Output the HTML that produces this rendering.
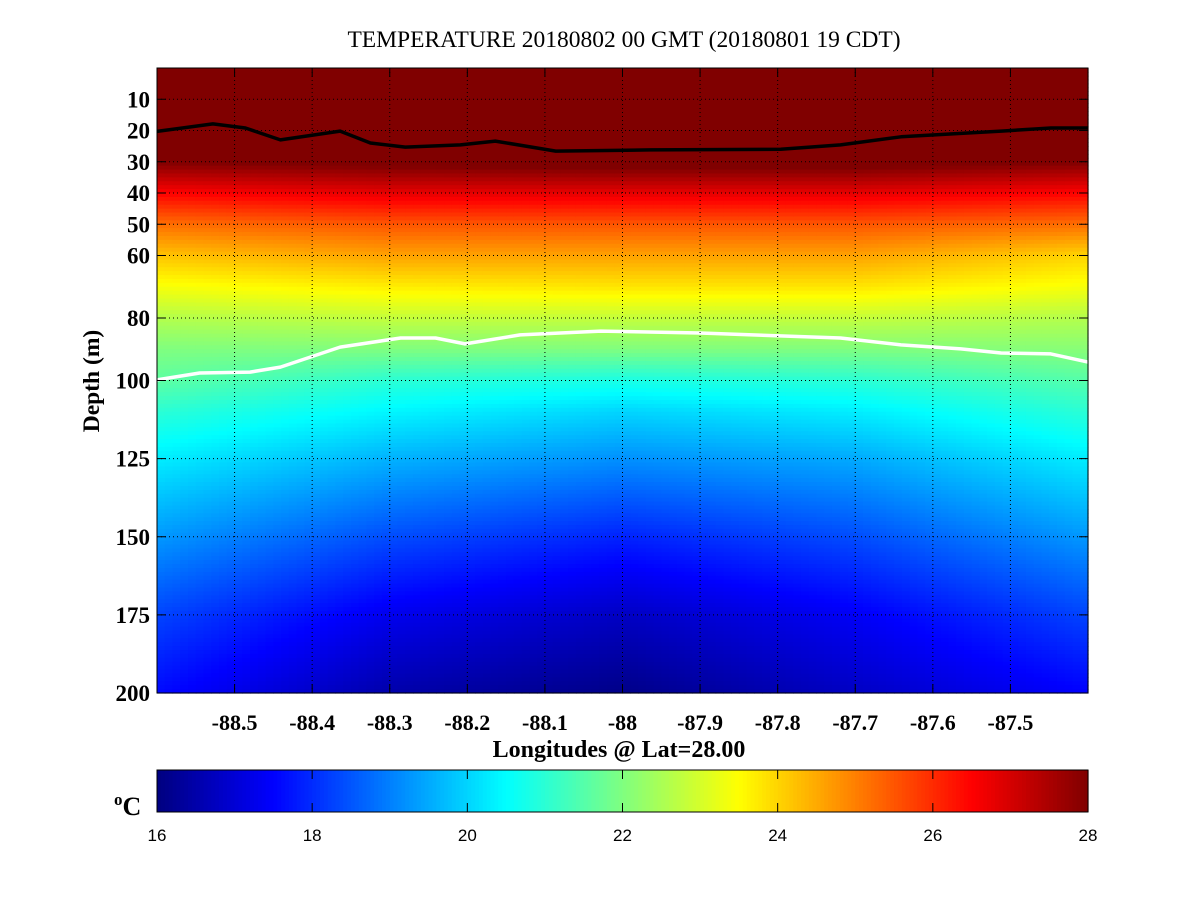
<!DOCTYPE html>
<html><head><meta charset="utf-8"><style>
body{margin:0;background:#fff}
svg text{font-family:"Liberation Serif",serif}
svg text.sans{font-family:"Liberation Sans",sans-serif}
</style></head><body>
<svg id="svg" width="1201" height="901" xmlns="http://www.w3.org/2000/svg">
<rect width="1201" height="901" fill="#fff"/>
<text x="624" y="47" font-size="23.5" text-anchor="middle">TEMPERATURE 20180802 00 GMT (20180801 19 CDT)</text>
<g id="heat"></g>
<g id="contours"></g>
<g id="grid"></g>
<rect x="157" y="68" width="931" height="625" fill="none" stroke="#000" stroke-width="1"/>
<g id="axes"></g>
<text transform="translate(99,381) rotate(-90)" font-size="23.5" font-weight="bold" text-anchor="middle">Depth (m)</text>
<text x="619" y="757" font-size="24" font-weight="bold" text-anchor="middle">Longitudes @ Lat=28.00</text>
<g id="cbar"></g>
<rect x="157" y="770" width="931" height="42" fill="none" stroke="#000"/>
<text x="114" y="815" font-size="26" font-weight="bold"><tspan font-size="17" dy="-10">o</tspan><tspan dy="10">C</tspan></text>
</svg>
<script>
const lonNodes=[-88.6,-88.3,-88.0,-87.7,-87.4];
const depthNodes=[0,20,30,40,50,60,70,80,90,100,110,125,150,175,200];
const profileW=[29,29,28,26.5,25.2,24.2,23.4,22.6,22.0,21.6,21.0,20.3,19.3,18.3,17.6];
const profileWC=[29,29,28.2,26.8,25.5,24.6,23.7,22.8,22.0,21.0,20.4,19.6,18.4,17.3,16.5];
const profileC=[29,29,28.3,26.8,25.5,24.6,23.8,22.8,22.0,20.8,20.0,19.2,17.9,16.8,16.1];
const profileEC=[29,29,28.3,26.8,25.5,24.6,23.8,22.8,22.0,21.0,20.3,19.5,18.4,17.4,16.8];
const profileE=[29,29,28,26.5,25.2,24.0,23.4,22.6,22.1,21.5,21.0,20.3,19.3,18.3,17.5];
const blackLon=[-88.6,-88.528,-88.486,-88.441,-88.364,-88.325,-88.28,-88.209,-88.164,-88.086,-87.964,-87.796,-87.719,-87.641,-87.512,-87.448,-87.4];
const blackDepth=[20.3,17.9,19.2,23,20.2,24,25.3,24.6,23.4,26.6,26.2,26,24.6,22,20.2,19.2,19.2];
const whiteLon=[-88.6,-88.545,-88.48,-88.441,-88.364,-88.286,-88.241,-88.203,-88.132,-88.028,-87.9,-87.719,-87.641,-87.564,-87.512,-87.448,-87.4];
const whiteDepth=[99.8,97.6,97.3,95.7,89.3,86.4,86.4,88.3,85.4,84.2,84.8,86.4,88.6,89.9,91.2,91.5,94.1];
const xTicks=[-88.5,-88.4,-88.3,-88.2,-88.1,-88,-87.9,-87.8,-87.7,-87.6,-87.5];
const yTicks=[10,20,30,40,50,60,80,100,125,150,175,200];
const cTicks=[16,18,20,22,24,26,28];
const profiles=[profileW,profileWC,profileC,profileEC,profileE];
const NS='http://www.w3.org/2000/svg';
const X0=157,X1=1088,Y0=68,Y1=693,LON0=-88.6,LON1=-87.4,D0=0,D1=200,T0=16,T1=28;
const xs=l=>X0+(l-LON0)/(LON1-LON0)*(X1-X0);
const ys=d=>Y0+(d-D0)/(D1-D0)*(Y1-Y0);
const cs=t=>X0+(t-T0)/(T1-T0)*(X1-X0);
function mk(tag,at,p){const e=document.createElementNS(NS,tag);for(const k in at)e.setAttribute(k,at[k]);p.appendChild(e);return e;}
function interp(xa,ya,x){if(x<=xa[0])return ya[0];for(let i=1;i<xa.length;i++){if(x<=xa[i]){const f=(x-xa[i-1])/(xa[i]-xa[i-1]);return ya[i-1]+f*(ya[i]-ya[i-1]);}}return ya[ya.length-1];}
function temp(l,d){const col=profiles.map(p=>interp(depthNodes,p,d));return interp(lonNodes,col,l);}
function jet(t){let v=(t-T0)/(T1-T0);v=Math.max(0,Math.min(1,v));
 const r=Math.max(0,Math.min(1,Math.min(4*v-1.5,-4*v+4.5)));
 const g=Math.max(0,Math.min(1,Math.min(4*v-0.5,-4*v+3.5)));
 const b=Math.max(0,Math.min(1,Math.min(4*v+0.5,-4*v+2.5)));
 return `rgb(${Math.round(r*255)},${Math.round(g*255)},${Math.round(b*255)})`;}
const heat=document.getElementById('heat');
const dl=0.01,dd=1.25;
for(let l=LON0;l<LON1-1e-9;l+=dl){for(let d=D0;d<D1-1e-9;d+=dd){
 const r=mk('rect',{x:xs(l).toFixed(2),y:ys(d).toFixed(2),width:(xs(l+dl)-xs(l)+0.6).toFixed(2),height:(ys(d+dd)-ys(d)+0.6).toFixed(2),fill:jet(temp(l+dl/2,d+dd/2))},heat);
 
 }}
const con=document.getElementById('contours');
function line(la,da,color,name){const pts=la.map((l,i)=>xs(l).toFixed(1)+','+ys(da[i]).toFixed(1)).join(' ');
 const p=mk('polyline',{points:pts,fill:'none',stroke:color,'stroke-width':3.5,'stroke-linejoin':'round'},con);
 
 }
line(blackLon,blackDepth,'#000','contour-28c');
line(whiteLon,whiteDepth,'#fff','contour-22c');
const grid=document.getElementById('grid'),axes=document.getElementById('axes');
xTicks.forEach(t=>{const x=xs(t);
 const g=mk('line',{x1:x,x2:x,y1:Y0,y2:Y1,stroke:'#000','stroke-width':1,'stroke-dasharray':'1,3'},grid);
 
 mk('line',{x1:x,x2:x,y1:Y1-9,y2:Y1,stroke:'#000'},axes);mk('line',{x1:x,x2:x,y1:Y0,y2:Y0+9,stroke:'#000'},axes);
 const tx=mk('text',{x:x,y:730,'font-size':22,'font-weight':'bold','text-anchor':'middle'},axes);tx.textContent=String(t);
 });
yTicks.forEach(t=>{const y=ys(t);
 if(t<200){const g=mk('line',{x1:X0,x2:X1,y1:y,y2:y,stroke:'#000','stroke-width':1,'stroke-dasharray':'1,3'},grid);
 
 mk('line',{x1:X0,x2:X0+9,y1:y,y2:y,stroke:'#000'},axes);mk('line',{x1:X1-9,x2:X1,y1:y,y2:y,stroke:'#000'},axes);}
 const tx=mk('text',{x:150,y:y+8,'font-size':23,'font-weight':'bold','text-anchor':'end'},axes);tx.textContent=String(t);
 });
const cb=document.getElementById('cbar');
for(let t=T0;t<T1-1e-9;t+=0.05){const r=mk('rect',{x:cs(t).toFixed(2),y:770,width:(cs(t+0.05)-cs(t)+0.6).toFixed(2),height:42,fill:jet(t+0.025)},cb);
 }
cTicks.forEach(t=>{const x=cs(t);
 if(t>T0&&t<T1){mk('line',{x1:x,x2:x,y1:770,y2:779,stroke:'#000'},cb);mk('line',{x1:x,x2:x,y1:803,y2:812,stroke:'#000'},cb);}
 const tx=mk('text',{x:x,y:841,'font-size':17,'text-anchor':'middle','class':'sans'},cb);tx.textContent=String(t);
 });
</script>
</body></html>
